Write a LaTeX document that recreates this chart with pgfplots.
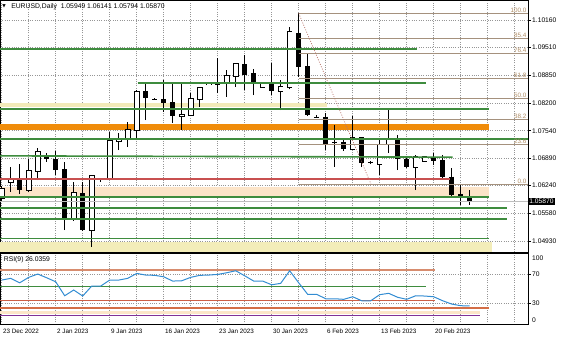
\documentclass[border=0pt]{standalone}
\usepackage{pgfplots}
\pgfplotsset{compat=1.18}
\usepackage{pgfplotstable}
\usepackage{fontspec}
\setmainfont{Liberation Sans}
\newfontfamily\dejavu{DejaVu Sans}

\definecolor{gridc}{RGB}{150,150,150}
\definecolor{lgreen}{RGB}{62,140,62}
\definecolor{orangeband}{RGB}{240,140,10}
\definecolor{beigeband}{RGB}{242,234,185}
\definecolor{peachband}{RGB}{252,228,200}
\definecolor{yellowband}{RGB}{243,237,185}
\definecolor{redline}{RGB}{200,80,80}
\definecolor{fibline}{RGB}{165,145,125}
\definecolor{fibtext}{RGB}{175,140,100}
\definecolor{diagc}{RGB}{185,120,110}
\definecolor{bidc}{RGB}{190,190,190}
\definecolor{rsic}{RGB}{50,140,210}
\definecolor{rsisalmon}{RGB}{215,140,110}
\definecolor{rsired}{RGB}{205,95,70}
\definecolor{rsiorange}{RGB}{212,110,70}
\definecolor{rsipeach}{RGB}{252,230,200}
\definecolor{rsipurple}{RGB}{130,50,150}

% white (bullish) candles
\pgfplotstableread{
i o h l c
0 1.05947 1.06231 1.05876 1.06153
1 1.06326 1.06688 1.06097 1.06373
3 1.06137 1.06863 1.06082 1.06593
4 1.06593 1.07124 1.06373 1.07029
8 1.05450 1.06333 1.05410 1.06059
10 1.05190 1.06480 1.04795 1.06468
12 1.06390 1.07516 1.06373 1.07296
13 1.07296 1.07479 1.07083 1.07344
14 1.07344 1.07753 1.07161 1.07557
15 1.07557 1.08503 1.07320 1.08463
20 1.07895 1.08662 1.07557 1.07904
21 1.07912 1.08425 1.07888 1.08283
22 1.08283 1.08581 1.08108 1.08558
23 1.08638 1.08662 1.08621 1.08645
25 1.08700 1.08977 1.08345 1.08834
26 1.08842 1.09135 1.08581 1.09118
29 1.08567 1.08650 1.08560 1.08645
31 1.08480 1.08740 1.08030 1.08581
32 1.08567 1.09987 1.08520 1.09869
39 1.07100 1.07888 1.07083 1.07360
42 1.06752 1.07320 1.06492 1.07202
43 1.07225 1.08080 1.07010 1.07337
46 1.06688 1.06965 1.06137 1.06925
47 1.06830 1.06941 1.06811 1.06910
}\tabW

% black (bearish) candles
\pgfplotstableread{
i o h l c
2 1.06373 1.06745 1.06042 1.06137
5 1.06958 1.07019 1.06806 1.06863
6 1.06863 1.07067 1.06492 1.06610
7 1.06626 1.06806 1.05190 1.05450
9 1.06059 1.06333 1.05174 1.05190
11 1.06390 1.06420 1.06338 1.06373
16 1.08480 1.08662 1.07793 1.08307
17 1.08290 1.08314 1.08267 1.08283
18 1.08290 1.08740 1.07990 1.08203
19 1.08219 1.08662 1.07729 1.07895
24 1.08676 1.09253 1.08425 1.08629
27 1.09118 1.09331 1.08503 1.08858
28 1.08898 1.08993 1.08385 1.08662
30 1.08645 1.09135 1.08385 1.08487
33 1.09859 1.10318 1.08818 1.09055
34 1.09071 1.09372 1.07888 1.07912
35 1.07871 1.07900 1.07840 1.07864
36 1.07871 1.07966 1.07083 1.07225
37 1.07280 1.07675 1.06688 1.07242
38 1.07280 1.07332 1.07071 1.07100
40 1.07384 1.07398 1.06688 1.06783
41 1.06806 1.06823 1.06752 1.06769
44 1.07337 1.07438 1.06610 1.06863
45 1.06863 1.06894 1.06657 1.06688
48 1.06910 1.07019 1.06728 1.06830
49 1.06847 1.06965 1.06414 1.06451
50 1.06451 1.06650 1.05995 1.06018
51 1.06035 1.06255 1.05782 1.05940
52 1.05949 1.06141 1.05794 1.05870
}\tabB

% RSI(9)
\pgfplotstableread{
i r
0 62.2
1 64.6
2 58.4
3 66.0
4 70.6
5 65.4
6 59.8
7 40.3
8 48.3
9 39.9
10 53.8
11 53.8
12 62.2
13 62.2
14 64.6
15 71.5
16 69.2
17 68.8
18 66.8
19 60.8
20 61.2
21 66.0
22 68.8
23 69.2
24 70.1
25 72.4
26 75.2
27 68.2
28 60.8
29 60.8
30 55.6
31 57.6
32 75.2
33 58.4
34 42.3
35 42.3
36 36.1
37 36.1
38 35.3
39 38.9
40 33.3
41 33.3
42 41.8
43 43.7
44 38.1
45 35.3
46 40.3
47 39.9
48 38.9
49 33.3
50 28.7
51 26.4
52 26.04
}\tabR

\pgfplotsset{
  mt/.style={
    scale only axis, width=528pt,
    xmin=-0.19, xmax=58.48,
    clip mode=individual,
    axis line style={black, line width=0.8pt},
    xmajorgrids, ymajorgrids,
    grid style={gridc, line width=0.55pt, dash pattern=on 1pt off 1.3pt},
    xtick={0,3,...,57},
    xtick style={draw=none},
    ytick pos=right, yticklabel pos=right,
    tick align=outside, major tick length=2.5pt,
    ytick style={black, line width=0.6pt},
    yticklabel style={anchor=west, inner sep=0pt, xshift=1.5pt},
    tick label style={font=\fontsize{6.7}{7}\selectfont},
    scaled y ticks=false,
    /pgf/number format/assume math mode=true,
  },
  fib/.style={fibline, line width=0.7pt},
  gl/.style={lgreen, line width=1.6pt},
}
\tikzset{
  flab/.style={anchor=south east, inner sep=0.6pt, text=fibtext, font=\fontsize{6.3}{7}\selectfont},
}

\begin{document}
\begin{tikzpicture}
\useasboundingbox (0,0) rectangle (564pt,338pt);

% ---------------- main price panel ----------------
\begin{axis}[mt,
  at={(0pt,86pt)}, anchor=south west, height=252pt,
  ymin=1.04670, ymax=1.10633,
  ytick={1.0493,1.0558,1.0624,1.0689,1.0754,1.0820,1.0885,1.0951,1.1016},
  yticklabels={1.04930,1.05580,1.06240,1.06890,1.07540,1.08200,1.08850,1.09510,1.10160},
  xticklabels={},
]
% background bands
\addplot[fill=yellowband, draw=none] coordinates {(-0.19,1.04913) (54.48,1.04913) (54.48,1.04670) (-0.19,1.04670)};
\addplot[fill=peachband, draw=none] coordinates {(-0.19,1.06215) (54.14,1.06215) (54.14,1.05995) (-0.19,1.05995)};
\addplot[fill=orangeband, draw=none] coordinates {(-0.19,1.07710) (54.14,1.07710) (54.14,1.07568) (-0.19,1.07568)};
\addplot[fill=beigeband, draw=none] coordinates {(-0.19,1.08188) (36.1,1.08188) (36.1,1.08108) (-0.19,1.08108)};

% candles: wicks
\addplot[black, line width=0.9pt, quiver={u=0, v=\thisrow{h}-\thisrow{l}}] table[x=i, y=l] {\tabW};
\addplot[black, line width=0.9pt, quiver={u=0, v=\thisrow{h}-\thisrow{l}}] table[x=i, y=l] {\tabB};
% bodies
\addplot[black, line width=5.4pt, quiver={u=0, v=\thisrow{c}-\thisrow{o}}] table[x=i, y=o] {\tabB};
\addplot[black, line width=5.6pt, quiver={u=0, v=\thisrow{c}-\thisrow{o}+0.0004}] table[x=i, y expr=\thisrow{o}-0.0002] {\tabW};
\addplot[white, line width=3.8pt, quiver={u=0, v=\thisrow{c}-\thisrow{o}}] table[x=i, y=o] {\tabW};

% horizontal lines
\addplot[gl] coordinates {(-0.19,1.09467) (46.1,1.09467)};
\addplot[gl] coordinates {(15.11,1.08662) (47.1,1.08662)};
\addplot[gl] coordinates {(-0.19,1.08060) (54.14,1.08060)};
\addplot[gl] coordinates {(-0.19,1.07344) (58.48,1.07344)};
\addplot[gl] coordinates {(-0.19,1.06945) (50.1,1.06914)};
\addplot[redline, line width=1.9pt] coordinates {(-0.19,1.06390) (49.8,1.06390)};
\addplot[gl] coordinates {(-0.19,1.05978) (54.14,1.05978)};
\addplot[bidc, line width=0.6pt] coordinates {(-0.19,1.05870) (58.48,1.05870)};
\addplot[gl] coordinates {(-0.19,1.05718) (56.1,1.05718)};
\addplot[gl] coordinates {(-0.19,1.05457) (56.1,1.05457)};
\addplot[gl] coordinates {(-0.19,1.04994) (54.14,1.04994)};

% Fibonacci retracement
\addplot[fib] coordinates {(33,1.10318) (58.48,1.10318)};
\addplot[fib] coordinates {(33,1.09727) (58.48,1.09727)};
\addplot[fib] coordinates {(33,1.09362) (58.48,1.09362)};
\addplot[fib] coordinates {(33,1.08771) (58.48,1.08771)};
\addplot[fib] coordinates {(33,1.08294) (58.48,1.08294)};
\addplot[fib] coordinates {(33,1.07816) (58.48,1.07816)};
\addplot[fib] coordinates {(33,1.07225) (58.48,1.07225)};
\addplot[fib] coordinates {(33,1.06269) (58.48,1.06269)};
\addplot[diagc, line width=0.7pt, dash pattern=on 1pt off 1.5pt] coordinates {(33,1.10318) (41.05,1.06269)};

\node[flab] at (axis cs:58.4,1.10318) {100.0};
\node[flab] at (axis cs:58.4,1.09727) {85.4};
\node[flab] at (axis cs:58.4,1.09362) {76.4};
\node[flab] at (axis cs:58.4,1.08771) {61.8};
\node[flab] at (axis cs:58.4,1.08294) {50.0};
\node[flab] at (axis cs:58.4,1.07816) {38.2};
\node[flab] at (axis cs:58.4,1.07225) {23.6};
\node[flab] at (axis cs:58.4,1.06269) {0.0};

% current price box
\node[fill=black, text=white, anchor=west, inner xsep=1.2pt, inner ysep=1pt, font=\fontsize{6.7}{7}\selectfont] at (axis cs:58.48,1.05870) {1.05870};

% title
\node[anchor=west, inner sep=0pt, font=\fontsize{6.8}{8}\selectfont] at (rel axis cs:0.021,0.973) {EURUSD,Daily \ 1.05949 1.06141 1.05794 1.05870};
\node[anchor=west, inner sep=0pt, font=\dejavu\fontsize{4.5}{5}\selectfont] at (rel axis cs:0.004,0.975) {▼};
\end{axis}

% ---------------- RSI panel ----------------
\begin{axis}[mt,
  at={(0pt,13.4pt)}, anchor=south west, height=71.6pt,
  ymin=0, ymax=100,
  ytick={30,70}, yticklabels={30,70},
  extra y ticks={6.4,92.5}, extra y tick labels={0,100},
  extra y tick style={grid=none, ytick style={draw=none}},
  xticklabels={23 Dec 2022,,2 Jan 2023,,9 Jan 2023,,16 Jan 2023,,23 Jan 2023,,30 Jan 2023,,6 Feb 2023,,13 Feb 2023,,20 Feb 2023,,,},
  xticklabel style={anchor=north west, inner sep=0pt, xshift=1.2pt, yshift=-1.5pt, font=\fontsize{6.3}{7}\selectfont},
]
\addplot[fill=rsipeach, draw=none] coordinates {(-0.19,19.4) (53.1,19.4) (53.1,14.8) (-0.19,14.8)};
\addplot[rsisalmon, line width=1.3pt] coordinates {(-0.19,76.2) (48.1,76.2)};
\addplot[lgreen, line width=1.3pt] coordinates {(-0.19,52.9) (47.1,52.9)};
\addplot[rsired, line width=1.2pt] coordinates {(-0.19,33.9) (48.1,33.9)};
\addplot[rsiorange, line width=1.2pt] coordinates {(-0.19,23.2) (54.1,23.2)};
\addplot[rsipurple, line width=1.2pt] coordinates {(-0.19,12.7) (53.1,12.7)};
\addplot[rsic, line width=1pt] table[x=i, y=r] {\tabR};
\node[anchor=west, inner sep=0pt, font=\fontsize{6.8}{8}\selectfont] at (rel axis cs:0.007,0.912) {RSI(9) 26.0359};
\end{axis}
\end{tikzpicture}
\end{document}
